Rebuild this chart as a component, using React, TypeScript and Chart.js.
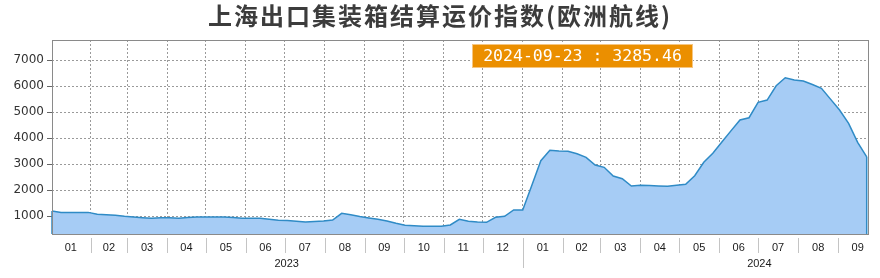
import React, { useEffect, useRef } from "react";
import { Chart, registerables } from "chart.js";

Chart.register(...registerables);

const TITLE = "上海出口集装箱结算运价指数(欧洲航线)";

// weekly publication dates (MM-DD)
const dates2023 = [
  "01-02", "01-09", "01-16", "01-23", "01-30",
  "02-06", "02-13", "02-20", "02-27",
  "03-06", "03-13", "03-20", "03-27",
  "04-03", "04-10", "04-17", "04-24",
  "05-01", "05-08", "05-15", "05-22", "05-29",
  "06-05", "06-12", "06-19", "06-26",
  "07-03", "07-10", "07-17", "07-24", "07-31",
  "08-07", "08-14", "08-21", "08-28",
  "09-04", "09-11", "09-18", "09-25",
  "10-02", "10-09", "10-16", "10-23", "10-30",
  "11-06", "11-13", "11-20", "11-27",
  "12-04", "12-11", "12-18", "12-25",
];
const dates2024 = [
  "01-01", "01-08", "01-15", "01-22", "01-29",
  "02-05", "02-12", "02-19", "02-26",
  "03-04", "03-11", "03-18", "03-25",
  "04-01", "04-08", "04-15", "04-22", "04-29",
  "05-06", "05-13", "05-20", "05-27",
  "06-03", "06-10", "06-17", "06-24",
  "07-01", "07-08", "07-15", "07-22", "07-29",
  "08-05", "08-12", "08-19", "08-26",
  "09-02", "09-09", "09-16", "09-23",
];

const values2023 = [
  1200, 1150, 1150, 1150, 1150,
  1080, 1060, 1040, 1000,
  970, 945, 923, 940,
  940, 923, 950, 973,
  973, 973, 973, 950, 923,
  923, 923, 885, 850,
  835, 805, 781, 800, 820,
  858, 1115, 1055, 990,
  935, 885, 820, 735,
  660, 640, 616, 616, 616,
  666, 885, 810, 780,
  770, 962, 1000, 1242,
];
const values2024 = [
  1242, 2180, 3134, 3534, 3510,
  3495, 3400, 3265, 2969,
  2881, 2547, 2443, 2163,
  2190, 2180, 2165, 2152, 2190,
  2228, 2559, 3072, 3418,
  3850, 4280, 4697, 4785,
  5376, 5464, 6013, 6320, 6232,
  6194, 6060, 5914, 5500,
  5081, 4570, 3841, 3285.46,
];

const yTicks = [1000, 2000, 3000, 4000, 5000, 6000, 7000];
const monthLabels = ["01", "02", "03", "04", "05", "06", "07", "08", "09", "10", "11", "12"];
const years = [2023, 2024];
const Y_MIN = 320;
const Y_MAX = 7770;

const DAY = 86400000;

function toTs(year: number, md: string) {
  const [m, d] = md.split("-").map(Number);
  return Date.UTC(year, m - 1, d);
}

const points = [
  ...dates2023.map((d, i) => ({ x: toTs(2023, d), y: values2023[i] })),
  ...dates2024.map((d, i) => ({ x: toTs(2024, d), y: values2024[i] })),
];
const lastDate = "2024-" + dates2024[dates2024.length - 1];
const lastValue = values2024[values2024.length - 1];

const X_MIN = points[0].x;
const X_MAX = points[points.length - 1].x + DAY;

const LINE = "#2f8bc6";
const FILL = "#a6ccf5";

const decor = {
  id: "decor",
  afterDatasetsDraw(chart: any) {
    const { ctx, chartArea, scales } = chart;
    const xs = scales.x;
    const ys = scales.y;
    ctx.save();
    // vertical edges of the area
    ctx.strokeStyle = LINE;
    ctx.lineWidth = 1.5;
    const first = points[0];
    const last = points[points.length - 1];
    ctx.beginPath();
    ctx.moveTo(xs.getPixelForValue(first.x), ys.getPixelForValue(first.y));
    ctx.lineTo(xs.getPixelForValue(first.x), chartArea.bottom);
    ctx.moveTo(xs.getPixelForValue(last.x), ys.getPixelForValue(last.y));
    ctx.lineTo(xs.getPixelForValue(last.x), chartArea.bottom);
    ctx.stroke();
    // frame
    ctx.strokeStyle = "#8a8a8a";
    ctx.lineWidth = 1;
    ctx.strokeRect(
      Math.round(chartArea.left) + 0.5,
      Math.round(chartArea.top) + 0.5,
      Math.round(chartArea.right - chartArea.left),
      Math.round(chartArea.bottom - chartArea.top)
    );
    ctx.restore();
  },
  afterDraw(chart: any) {
    const { ctx, chartArea, scales } = chart;
    const xs = scales.x;
    ctx.save();
    // title
    ctx.fillStyle = "#3c3c3c";
    ctx.font = "bold 24px 'Noto Sans CJK SC'";
    (ctx as any).letterSpacing = "2px";
    ctx.textAlign = "center";
    ctx.textBaseline = "middle";
    ctx.fillText(TITLE, 440, 16);
    (ctx as any).letterSpacing = "0px";

    // month labels and separators
    ctx.font = "11px 'Liberation Sans'";
    ctx.fillStyle = "#1a1a1a";
    ctx.textAlign = "center";
    ctx.textBaseline = "middle";
    const bottom = chartArea.bottom;
    for (const yr of years) {
      for (let m = 0; m < 12; m++) {
        const s = Date.UTC(yr, m, 1);
        const e = Date.UTC(yr, m + 1, 1);
        if (e <= X_MIN || s >= X_MAX) continue;
        const cx = (xs.getPixelForValue(s) + xs.getPixelForValue(e)) / 2;
        ctx.fillText(monthLabels[m], cx, bottom + 13.5);
        if (s > X_MIN && s < X_MAX) {
          const px = Math.round(xs.getPixelForValue(s)) + 0.5;
          ctx.strokeStyle = "#c4c4c4";
          ctx.lineWidth = 1;
          ctx.beginPath();
          ctx.moveTo(px, bottom + 4);
          ctx.lineTo(px, m === 0 ? bottom + 34 : bottom + 19);
          ctx.stroke();
        }
      }
      const ys0 = Date.UTC(yr, 0, 1);
      const ye0 = Date.UTC(yr + 1, 0, 1);
      const ycx = (xs.getPixelForValue(ys0) + xs.getPixelForValue(ye0)) / 2;
      ctx.fillText(String(yr), ycx, bottom + 29.5);
    }

    // value badge
    const bx = 472, by = 44, bw = 221, bh = 24;
    ctx.fillStyle = "#eb8f00";
    ctx.fillRect(bx, by, bw, bh);
    ctx.strokeStyle = "#f6c681";
    ctx.lineWidth = 1;
    ctx.strokeRect(bx + 0.5, by + 0.5, bw - 1, bh - 1);
    ctx.fillStyle = "#ffffff";
    ctx.font = "16.5px 'DejaVu Sans Mono'";
    ctx.textAlign = "center";
    ctx.textBaseline = "middle";
    ctx.fillText(`${lastDate} : ${lastValue.toFixed(2)}`, bx + bw / 2, by + bh / 2 + 1);
    ctx.restore();
  },
};

export default function App() {
  const ref = useRef<HTMLCanvasElement | null>(null);
  useEffect(() => {
    if (!ref.current) return;
    const chart = new Chart(ref.current, {
      type: "line",
      data: {
        datasets: [
          {
            data: points,
            borderColor: LINE,
            borderWidth: 1.5,
            backgroundColor: FILL,
            fill: "start",
            pointRadius: 0,
            tension: 0,
          },
        ],
      },
      options: {
        animation: false,
        responsive: false,
        devicePixelRatio: 1,
        layout: { padding: { top: 40, right: 12, bottom: 44, left: 0 } },
        plugins: {
          legend: { display: false },
          tooltip: { enabled: false },
          title: { display: false },
        },
        scales: {
          x: {
            type: "linear",
            min: X_MIN,
            max: X_MAX,
            afterBuildTicks: (scale: any) => {
              const t: any[] = [];
              for (const yr of years) {
                for (let m = 0; m < 12; m++) {
                  const s = Date.UTC(yr, m, 1);
                  if (s > X_MIN && s < X_MAX) t.push({ value: s });
                }
              }
              scale.ticks = t;
            },
            afterFit: (scale: any) => {
              scale.height = 0;
            },
            ticks: { display: false },
            grid: { color: "#9a9a9a", drawTicks: false, lineWidth: 1 },
            border: { display: false, dash: [2, 2] },
          },
          y: {
            min: Y_MIN,
            max: Y_MAX,
            afterBuildTicks: (scale: any) => {
              scale.ticks = yTicks.map((v) => ({ value: v }));
            },
            afterFit: (scale: any) => {
              scale.width = 52;
            },
            ticks: {
              padding: 3,
              color: "#333333",
              font: { family: "'DejaVu Sans'", size: 12 },
              callback: (v: any) => String(v),
            },
            grid: {
              color: "#9a9a9a",
              tickLength: 5,
              tickColor: "#666666",
              tickBorderDash: [],
            } as any,
            border: { display: false, dash: [2, 2] },
          },
        },
      },
      plugins: [decor],
    });
    return () => chart.destroy();
  }, []);
  return (
    <div style={{ position: "absolute", left: 0, top: 0, width: 880, height: 278, background: "#fff" }}>
      <canvas ref={ref} width={880} height={278} style={{ width: 880, height: 278, display: "block" }} />
    </div>
  );
}
